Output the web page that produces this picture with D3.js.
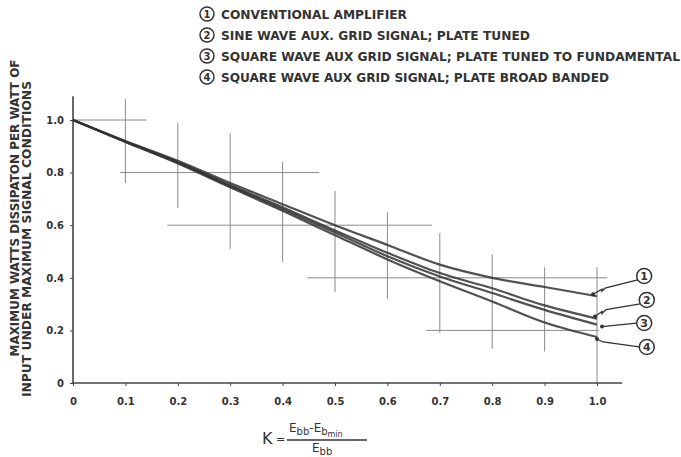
<!DOCTYPE html>
<html>
<head>
<meta charset="utf-8">
<script src="https://cdn.jsdelivr.net/npm/d3@7"></script>
<style>
  body { margin: 0; background: #fff; }
  text { font-family: "DejaVu Sans", sans-serif; font-weight: bold; fill: #333; }
</style>
</head>
<body>
<svg width="681" height="457"></svg>
<script>
// values
const kValues = [0, 0.1, 0.2, 0.3, 0.4, 0.5, 0.6, 0.7, 0.8, 0.9, 1.0];
const conventional = [1.0, 0.92, 0.845, 0.76, 0.68, 0.60, 0.525, 0.45, 0.40, 0.365, 0.33];
const sineTuned = [1.0, 0.918, 0.84, 0.752, 0.668, 0.58, 0.495, 0.418, 0.36, 0.295, 0.245];
const squareTuned = [1.0, 0.917, 0.838, 0.748, 0.662, 0.572, 0.482, 0.405, 0.342, 0.278, 0.222];
const squareBroad = [1.0, 0.916, 0.835, 0.744, 0.655, 0.562, 0.47, 0.387, 0.31, 0.23, 0.175];

const xTicks = [0, 0.1, 0.2, 0.3, 0.4, 0.5, 0.6, 0.7, 0.8, 0.9, 1.0];
const xTickLabels = ["0", "0.1", "0.2", "0.3", "0.4", "0.5", "0.6", "0.7", "0.8", "0.9", "1.0"];
const yTicks = [0, 0.2, 0.4, 0.6, 0.8, 1.0];
const yTickLabels = ["0", "0.2", "0.4", "0.6", "0.8", "1.0"];

const legendLabels = [
  "CONVENTIONAL  AMPLIFIER",
  "SINE WAVE AUX. GRID SIGNAL; PLATE TUNED",
  "SQUARE WAVE AUX GRID SIGNAL; PLATE TUNED TO FUNDAMENTAL",
  "SQUARE WAVE AUX GRID SIGNAL; PLATE BROAD BANDED"
];
const yTitleLines = [
  "MAXIMUM  WATTS  DISSIPATON  PER  WATT  OF",
  "INPUT UNDER MAXIMUM SIGNAL CONDITIONS"
];

// hand drawn cross grid: [value, from, to]
const gridV = [[0.1, 0.76, 1.08], [0.2, 0.665, 0.99], [0.3, 0.51, 0.95], [0.4, 0.46, 0.84],
  [0.5, 0.345, 0.73], [0.6, 0.32, 0.65], [0.7, 0.19, 0.57], [0.8, 0.13, 0.49],
  [0.9, 0.12, 0.44], [1.0, 0, 0.44]];
const gridH = [[1.0, 0, 0.14], [0.8, 0.09, 0.47], [0.6, 0.18, 0.685], [0.4, 0.447, 1.02], [0.2, 0.674, 1.004]];

const svg = d3.select("svg");
const x = d3.scaleLinear().domain([0, 1]).range([73, 597]);
const y = d3.scaleLinear().domain([0, 1]).range([383, 120]);

// grid
svg.append("g").selectAll("line").data(gridV).join("line")
  .attr("x1", d => x(d[0])).attr("x2", d => x(d[0]))
  .attr("y1", d => y(d[1])).attr("y2", d => y(d[2]))
  .attr("stroke", "#8a8a8a").attr("stroke-width", 1);
svg.append("g").selectAll("line").data(gridH).join("line")
  .attr("y1", d => y(d[0])).attr("y2", d => y(d[0]))
  .attr("x1", d => x(d[1])).attr("x2", d => x(d[2]))
  .attr("stroke", "#8a8a8a").attr("stroke-width", 1);

// axes
const xAxis = d3.axisBottom(x).tickValues(xTicks)
  .tickFormat((d, i) => xTickLabels[i]).tickSize(3).tickPadding(12);
const yAxis = d3.axisLeft(y).tickValues(yTicks)
  .tickFormat((d, i) => yTickLabels[i]).tickSize(3).tickPadding(6);

const gx = svg.append("g").attr("transform", `translate(0,${y(0)})`).call(xAxis);
const gy = svg.append("g").attr("transform", `translate(${x(0)},0)`).call(yAxis);
[gx, gy].forEach(g => {
  g.select(".domain").remove();
  g.selectAll(".tick line").attr("stroke", "#444");
  g.selectAll(".tick text").attr("font-size", 10).attr("font-family", "DejaVu Sans").attr("fill", "#333");
});
svg.append("line").attr("x1", x(0)).attr("x2", x(1.048)).attr("y1", y(0)).attr("y2", y(0))
  .attr("stroke", "#444").attr("stroke-width", 1.6);
svg.append("line").attr("x1", x(0)).attr("x2", x(0)).attr("y1", y(0)).attr("y2", y(1.09))
  .attr("stroke", "#444").attr("stroke-width", 1.6);

// curves
const seriesList = [conventional, sineTuned, squareTuned, squareBroad];
const line = d3.line().x((d, i) => x(kValues[i])).y(d => y(d)).curve(d3.curveMonotoneX);
svg.append("g").selectAll("path").data(seriesList).join("path")
  .attr("d", line).attr("fill", "none")
  .attr("stroke", "#333").attr("stroke-width", 2.2).attr("stroke-opacity", 0.85);

// curve callouts
const calloutY = [0.407, 0.316, 0.228, 0.137];
const calloutX = [1.09, 1.095, 1.09, 1.095];
const r = 7.5;
seriesList.forEach((s, i) => {
  const ex = x(1), ey = y(s[s.length - 1]);
  const cx = x(calloutX[i]), cy = y(calloutY[i]);
  const g = svg.append("g");
  g.append("circle").attr("cx", cx).attr("cy", cy).attr("r", r)
    .attr("fill", "#fff").attr("stroke", "#333").attr("stroke-width", 1.5);
  g.append("text").attr("x", cx).attr("y", cy + 4).attr("text-anchor", "middle")
    .attr("font-size", 11).text(i + 1);
  let pts;
  if (i === 0) pts = [[cx - r + 1, cy + 4], [ex + 8, ey - 8], [ex + 5, ey - 5], [ex + 5, ey - 7], [ex - 4, ey - 2]];
  else if (i === 1) pts = [[cx - r + 1, cy + 4], [ex + 9, ey - 9], [ex + 5, ey - 5], [ex + 5, ey - 7], [ex - 2, ey - 2]];
  else if (i === 2) pts = [[cx - r, cy], [ex + 5, ey + 2]];
  else pts = [[cx - r, cy], [ex + 6, ey + 5], [ex, ey + 2]];
  g.append("path").attr("d", d3.line()(pts)).attr("fill", "none")
    .attr("stroke", "#333").attr("stroke-width", 1.3);
  const tip = pts[pts.length - 1];
  g.append("circle").attr("cx", tip[0]).attr("cy", tip[1]).attr("r", 2).attr("fill", "#333");
});

// legend
const legendX = 207, legendY0 = 14, legendStep = 21;
const legendEnds = [407, 530, 680, 609];
const lg = svg.append("g").selectAll("g").data(legendLabels).join("g")
  .attr("transform", (d, i) => `translate(${legendX},${legendY0 + i * legendStep})`);
lg.append("circle").attr("r", 7).attr("fill", "#fff").attr("stroke", "#333").attr("stroke-width", 1.5);
lg.append("text").attr("y", 4).attr("text-anchor", "middle").attr("font-size", 10).text((d, i) => i + 1);
lg.append("text").attr("x", 14).attr("y", 5).attr("font-size", 11.5)
  .attr("textLength", (d, i) => legendEnds[i] - legendX - 14)
  .attr("lengthAdjust", "spacingAndGlyphs").text(d => d);

// y title
const yTitle = [[15, 208, 297], [27, 239, 316]];
svg.append("g").selectAll("text").data(yTitleLines).join("text")
  .attr("transform", (d, i) => `translate(${yTitle[i][0] + 4},${yTitle[i][1]}) rotate(-90)`)
  .attr("text-anchor", "middle").attr("font-size", 12)
  .attr("textLength", (d, i) => yTitle[i][2]).attr("lengthAdjust", "spacingAndGlyphs")
  .text(d => d);

// x title: K = (Ebb - Ebmin) / Ebb
const f = svg.append("g");
f.append("text").attr("x", 262).attr("y", 444).attr("font-size", 16).style("font-weight", "normal").text("K");
f.append("text").attr("x", 276).attr("y", 443).attr("font-size", 11).style("font-weight", "normal").text("=");
f.append("line").attr("x1", 287).attr("x2", 367).attr("y1", 440).attr("y2", 440)
  .attr("stroke", "#333").attr("stroke-width", 1.5);
const num = f.append("text").attr("x", 289).attr("y", 432).attr("font-size", 12).style("font-weight", "normal");
num.append("tspan").text("E");
num.append("tspan").attr("dy", 3).attr("font-size", 10).text("bb");
num.append("tspan").attr("dy", -3).text("-E");
num.append("tspan").attr("dy", 3).attr("font-size", 10).text("b");
num.append("tspan").attr("dy", 2).attr("font-size", 8).text("min");
const den = f.append("text").attr("x", 312).attr("y", 452).attr("font-size", 12).style("font-weight", "normal");
den.append("tspan").text("E");
den.append("tspan").attr("dy", 3).attr("font-size", 10).text("bb");
</script>
</body>
</html>
